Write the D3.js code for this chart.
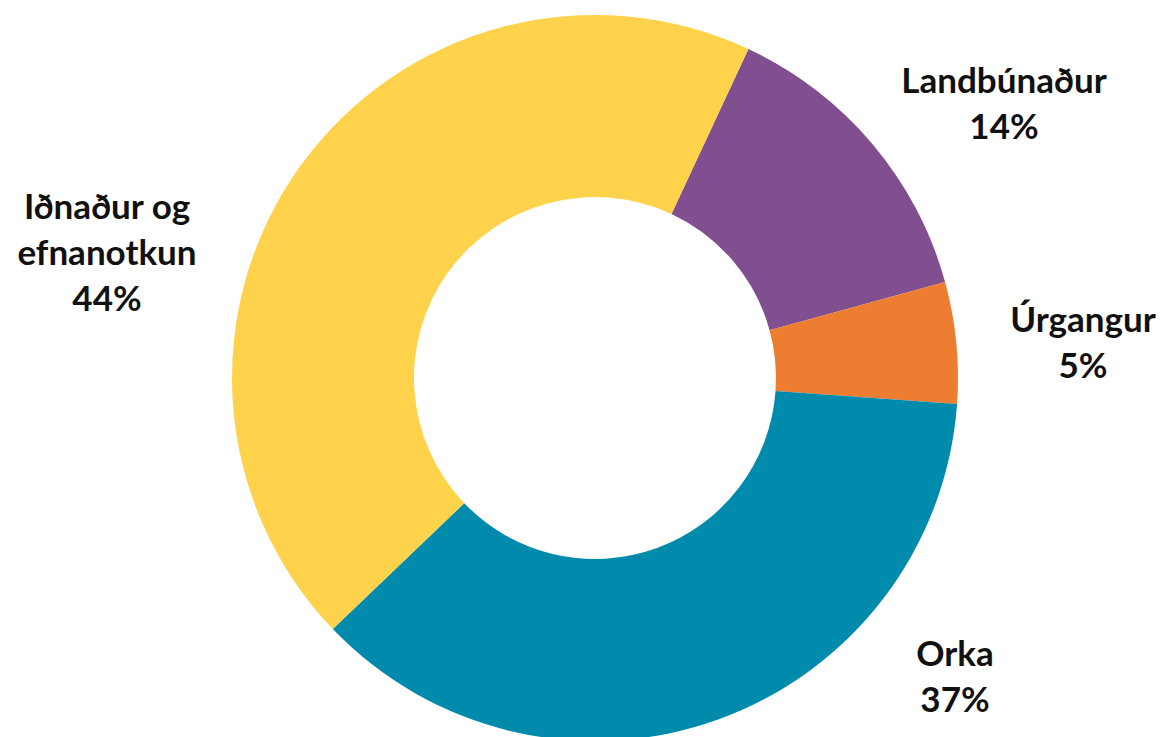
<!DOCTYPE html>
<html>
<head>
<meta charset="utf-8">
<script src="https://cdn.jsdelivr.net/npm/d3@7"></script>
<style>
  html, body { margin: 0; padding: 0; background: #fff; }
  svg { display: block; }
</style>
</head>
<body>
<div id="chart"></div>
<script>
// Sectors, clockwise from the first slice
const categories = ["Landbúnaður", "Úrgangur", "Orka", "Iðnaður og efnanotkun"];
const shares = [13.8, 5.4, 36.7, 44.1];
const percentLabels = ["14%", "5%", "37%", "44%"];
const colors = ["#814f8f", "#ed7d31", "#008bac", "#fed24b"];

const width = 1165;
const height = 737;
const cx = 595, cy = 378;
const outerR = 363, innerR = 181;
const startDeg = 25;

const svg = d3.select("#chart").append("svg")
    .attr("width", width)
    .attr("height", height);

const data = categories.map((c, i) => ({ name: c, value: shares[i], pct: percentLabels[i], color: colors[i] }));

const pie = d3.pie()
    .sort(null)
    .value(d => d.value)
    .startAngle(startDeg * Math.PI / 180)
    .endAngle((startDeg + 360) * Math.PI / 180);

const arc = d3.arc().innerRadius(innerR).outerRadius(outerR);

const g = svg.append("g").attr("transform", `translate(${cx},${cy})`);

g.selectAll("path")
    .data(pie(data))
    .join("path")
    .attr("d", arc)
    .attr("fill", d => d.data.color);

// label layout: name lines + percent, anchored by first baseline
const labelPos = {
    "Landbúnaður": { x: 1004, y: 93, lines: ["Landbúnaður"] },
    "Úrgangur": { x: 1083, y: 332, lines: ["Úrgangur"] },
    "Orka": { x: 955, y: 666, lines: ["Orka"] },
    "Iðnaður og efnanotkun": { x: 107, y: 219, lines: ["Iðnaður og", "efnanotkun"] }
};
const lineH = 46;

data.forEach(d => {
    const p = labelPos[d.name];
    const t = svg.append("text")
        .attr("x", p.x)
        .attr("y", p.y)
        .attr("text-anchor", "middle")
        .style("font-family", "Lato, 'Open Sans', sans-serif")
        .style("font-weight", "bold")
        .style("font-size", "35px")
        .style("fill", "#111");
    p.lines.concat([d.pct]).forEach((line, i) => {
        t.append("tspan")
            .attr("x", p.x)
            .attr("dy", i === 0 ? 0 : lineH)
            .text(line);
    });
});
</script>
</body>
</html>
